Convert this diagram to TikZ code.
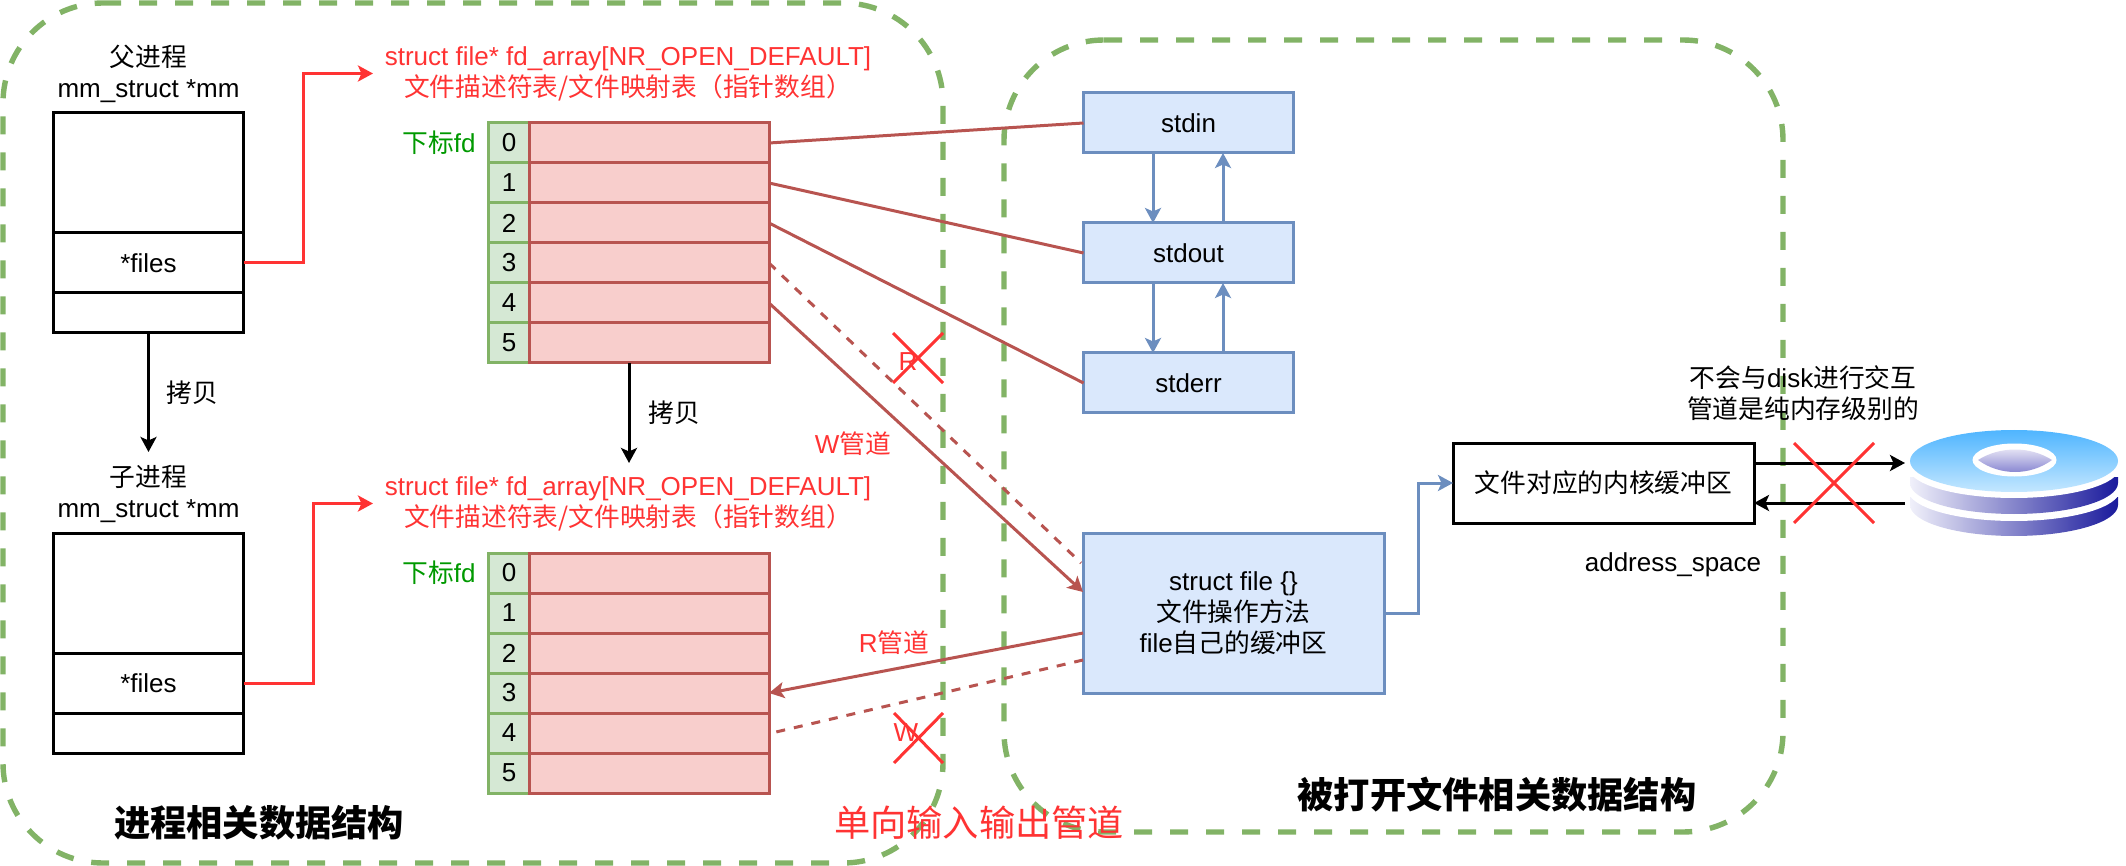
\documentclass[tikz,border=0pt]{standalone}
\usepackage{fontspec}
\usepackage{amsmath}
\usetikzlibrary{arrows.meta}
\setmainfont{Liberation Sans}
\newfontfamily\cjk[Scale=0.99]{Noto Sans CJK SC}

\definecolor{groupgreen}{HTML}{82B366}
\definecolor{idxfill}{HTML}{D5E8D4}
\definecolor{fdline}{HTML}{B85450}
\definecolor{fdfill}{HTML}{F8CECC}
\definecolor{fileline}{HTML}{6C8EBF}
\definecolor{filefill}{HTML}{DAE8FC}
\definecolor{labelred}{HTML}{FF3333}
\definecolor{labelgreen}{HTML}{009900}
\definecolor{diskpale}{HTML}{F0F0FA}
\definecolor{diskdark}{HTML}{1A1A9C}
\definecolor{disktop}{HTML}{4FB5FF}
\definecolor{diskbottom}{HTML}{C4E7FF}
\definecolor{holetop}{HTML}{F0EEF8}
\definecolor{holebottom}{HTML}{7A78CC}

\tikzset{
    plaintext/.style={inner sep=0pt, outer sep=0pt, align=center, font=\fontsize{26}{31}\selectfont},
    bigtext/.style={inner sep=0pt, outer sep=0pt, font=\fontsize{36.6}{42}\selectfont},
    redtext/.style={plaintext, text=labelred},
    groupbox/.style={draw=groupgreen, line width=5.4pt, dash pattern=on 18pt off 18pt, rounded corners=100pt},
    memcell/.style={draw=black, line width=3pt, minimum width=190pt, inner sep=0pt, outer sep=0pt, plaintext},
    idxcell/.style={draw=groupgreen, fill=idxfill, line width=3pt, minimum width=41pt, minimum height=40pt, inner sep=0pt, outer sep=0pt, plaintext},
    fdcell/.style={draw=fdline, fill=fdfill, line width=3pt, minimum width=240pt, minimum height=40pt, inner sep=0pt, outer sep=0pt},
    filecell/.style={draw=fileline, fill=filefill, line width=3pt, inner sep=0pt, outer sep=0pt, plaintext},
    bufcell/.style={draw=black, line width=3pt, inner sep=0pt, outer sep=0pt, plaintext},
    tip/.style={-{Stealth[length=15pt, width=16pt, inset=3.5pt]}},
    redarrow/.style={tip, draw=labelred, line width=3pt},
    blackarrow/.style={tip, draw=black, line width=3pt},
    bluearrow/.style={tip, draw=fileline, line width=3pt},
    fdarrow/.style={draw=fdline, line width=3pt},
    fddash/.style={draw=fdline, line width=3pt, dash pattern=on 9pt off 9pt},
    crossline/.style={draw=labelred, line width=3pt},
}

\begin{document}
\begin{tikzpicture}[x=1pt, y=-1pt]
        \useasboundingbox (0,0) rectangle (2126,866);
        \draw[groupbox] (103,3) -- (943,3) -- (943,863) -- (3,863) -- (3,3) -- (103,3);
        \draw[groupbox] (1104,40) -- (1783,40) -- (1783,832) -- (1004,832) -- (1004,40) -- (1104,40);

        % parent side
        \node[plaintext] (parentname) at (148.5,74) {{\cjk 父进程}\\mm\_struct *mm};
        \node[memcell, minimum height=120pt] (parentblank) at (148.5,173) {};
        \node[memcell, minimum height=60pt] (parentfiles) at (148.5,263) {*files};
        \node[memcell, minimum height=40pt] (parentgap) at (148.5,313) {};
        \node[redtext, minimum width=510pt] (parenttitle) at (628,73.5) {struct file* fd\_array[NR\_OPEN\_DEFAULT]\\{\cjk 文件描述符表/文件映射表（指针数组）}};
        \node[plaintext, text=labelgreen] (parentfd) at (439,143) {{\cjk 下标}fd};
        \node[idxcell] (pidx0) at (509,143) {0};
        \node[idxcell] (pidx1) at (509,183) {1};
        \node[idxcell] (pidx2) at (509,223) {2};
        \node[idxcell] (pidx3) at (509,263) {3};
        \node[idxcell] (pidx4) at (509,303) {4};
        \node[idxcell] (pidx5) at (509,343) {5};
        \node[fdcell] (pfd0) at (649,143) {};
        \node[fdcell] (pfd1) at (649,183) {};
        \node[fdcell] (pfd2) at (649,223) {};
        \node[fdcell] (pfd3) at (649,263) {};
        \node[fdcell] (pfd4) at (649,303) {};
        \node[fdcell] (pfd5) at (649,343) {};

        % child side
        \node[plaintext] (childname) at (148.5,494) {{\cjk 子进程}\\mm\_struct *mm};
        \node[memcell, minimum height=120pt] (childblank) at (148.5,593) {};
        \node[memcell, minimum height=60pt] (childfiles) at (148.5,683) {*files};
        \node[memcell, minimum height=40pt] (childgap) at (148.5,733) {};
        \node[redtext, minimum width=510pt] (childtitle) at (628,503.5) {struct file* fd\_array[NR\_OPEN\_DEFAULT]\\{\cjk 文件描述符表/文件映射表（指针数组）}};
        \node[plaintext, text=labelgreen] (childfd) at (439,573) {{\cjk 下标}fd};
        \node[idxcell] (cidx0) at (509,573) {0};
        \node[idxcell] (cidx1) at (509,613) {1};
        \node[idxcell] (cidx2) at (509,653) {2};
        \node[idxcell] (cidx3) at (509,693) {3};
        \node[idxcell] (cidx4) at (509,733) {4};
        \node[idxcell] (cidx5) at (509,773) {5};
        \node[fdcell] (cfd0) at (649,573) {};
        \node[fdcell] (cfd1) at (649,613) {};
        \node[fdcell] (cfd2) at (649,653) {};
        \node[fdcell] (cfd3) at (649,693) {};
        \node[fdcell] (cfd4) at (649,733) {};
        \node[fdcell] (cfd5) at (649,773) {};

        % file side
        \node[filecell, minimum width=210pt, minimum height=60pt] (stdin) at (1188.5,123) {stdin};
        \node[filecell, minimum width=210pt, minimum height=60pt] (stdout) at (1188.5,253) {stdout};
        \node[filecell, minimum width=210pt, minimum height=60pt] (stderr) at (1188.5,383) {stderr};
        \node[filecell, minimum width=301pt, minimum height=160pt] (filebox) at (1233.5,613) {struct file \{\}\\{\cjk 文件操作方法}\\file{\cjk 自己的缓冲区}};
        \node[bufcell, minimum width=301pt, minimum height=80pt] (kbuf) at (1603.5,483) {\cjk 文件对应的内核缓冲区};
        \node[plaintext] (nodisk) at (1803,393.5) {{\cjk 不会与}disk{\cjk 进行交互}\\{\cjk 管道是纯内存级别的}};
        \node[plaintext] (addrspace) at (1673,565) {address\_space};

        % disk
        \shade[left color=diskpale, right color=diskdark] (1910,497) -- (1910,505) .. controls (1910,522.1) and (1956.6,536) .. (2014,536) .. controls (2071.4,536) and (2118,522.1) .. (2118,505) -- (2118,497) -- cycle;
        \fill[white] (2014,490) ellipse [x radius=106, y radius=31];
        \shade[left color=diskpale, right color=diskdark] (1910,477) -- (1910,483) .. controls (1910,500.1) and (1956.6,514) .. (2014,514) .. controls (2071.4,514) and (2118,500.1) .. (2118,483) -- (2118,477) -- cycle;
        \fill[white] (2014,467) ellipse [x radius=106, y radius=31];
        \shade[top color=disktop, bottom color=diskbottom] (2014,461) ellipse [x radius=104, y radius=31];
        \fill[white] (2014.5,460) ellipse [x radius=42, y radius=16.5];
        \shade[top color=holetop, bottom color=holebottom] (1978,460) .. controls (2000,446) and (2030,446) .. (2052,460) .. controls (2030,476) and (2000,476) .. cycle;

        % connectors
        \coordinate (filedashin) at (1081,563);
        \coordinate (filesolidin) at (1083,592);
        \coordinate (filesolidout) at (1083,633);
        \coordinate (filedashout) at (1083,660);
        \coordinate (childdashin) at (776,732);
        \coordinate (bufout) at (1754,463);
        \coordinate (bufin) at (1754,503);
        \coordinate (diskin) at (1905,463);
        \coordinate (diskout) at (1905,503);
        \coordinate (downin) at (1153,153);
        \coordinate (downout) at (1153,223);
        \coordinate (upin) at (1223,223);
        \coordinate (upout) at (1223,153);
        \coordinate (downerr) at (1153,283);
        \coordinate (downerrend) at (1153,353);
        \coordinate (uperr) at (1223,353);
        \coordinate (uperrend) at (1223,283);
        \coordinate (parentcopyend) at (148.5,452);
        \coordinate (fdcopystart) at (629,363);
        \coordinate (fdcopyend) at (629,463);

        \draw[redarrow] (parentfiles.east) -- ++(60,0) |- (parenttitle.west);
        \draw[redarrow] (childfiles.east) -- ++(70,0) |- (childtitle.west);
        \draw[blackarrow] (parentgap.south) -- (parentcopyend);
        \draw[blackarrow] (fdcopystart) -- (fdcopyend);
        \draw[fdarrow] (pfd0.east) -- (stdin.west);
        \draw[fdarrow] (pfd1.east) -- (stdout.west);
        \draw[fdarrow] (pfd2.east) -- (stderr.west);
        \draw[fddash] (pfd3.east) -- (filedashin);
        \draw[fdarrow, tip] (pfd4.east) -- (filesolidin);
        \draw[fdarrow, tip] (filesolidout) -- (cfd3.east);
        \draw[fddash] (filedashout) -- (childdashin);
        \draw[bluearrow] (downin) -- (downout);
        \draw[bluearrow] (upin) -- (upout);
        \draw[bluearrow] (downerr) -- (downerrend);
        \draw[bluearrow] (uperr) -- (uperrend);
        \draw[bluearrow] (filebox.east) -- ++(34,0) |- (kbuf.west);
        \draw[blackarrow] (bufout) -- (diskin);
        \draw[blackarrow] (diskout) -- (bufin);

        % labels
        \node[plaintext] (copyup) at (192,393) {\cjk 拷贝};
        \node[plaintext] (copydown) at (674,413) {\cjk 拷贝};
        \node[redtext] (wpipe) at (853,444) {W{\cjk 管道}};
        \node[redtext] (rpipe) at (894,643) {R{\cjk 管道}};
        \node[redtext] (rmark) at (908,362) {R};
        \node[redtext] (wmark) at (906,733) {W};
        \draw[crossline] (893,333) -- (943,383);
        \draw[crossline] (893,383) -- (943,333);
        \draw[crossline] (894,713) -- (943,763);
        \draw[crossline] (894,763) -- (943,713);
        \draw[crossline] (1794,443) -- (1874,523);
        \draw[crossline] (1794,523) -- (1874,443);
        \node[bigtext] (proctitle) at (259,823) {\cjk\bfseries 进程相关数据结构};
        \node[bigtext, text=labelred] (pipetitle) at (979,823) {\cjk 单向输入输出管道};
        \node[bigtext] (filetitle) at (1497,795) {\cjk\bfseries 被打开文件相关数据结构};
    \end{tikzpicture}
\end{document}
